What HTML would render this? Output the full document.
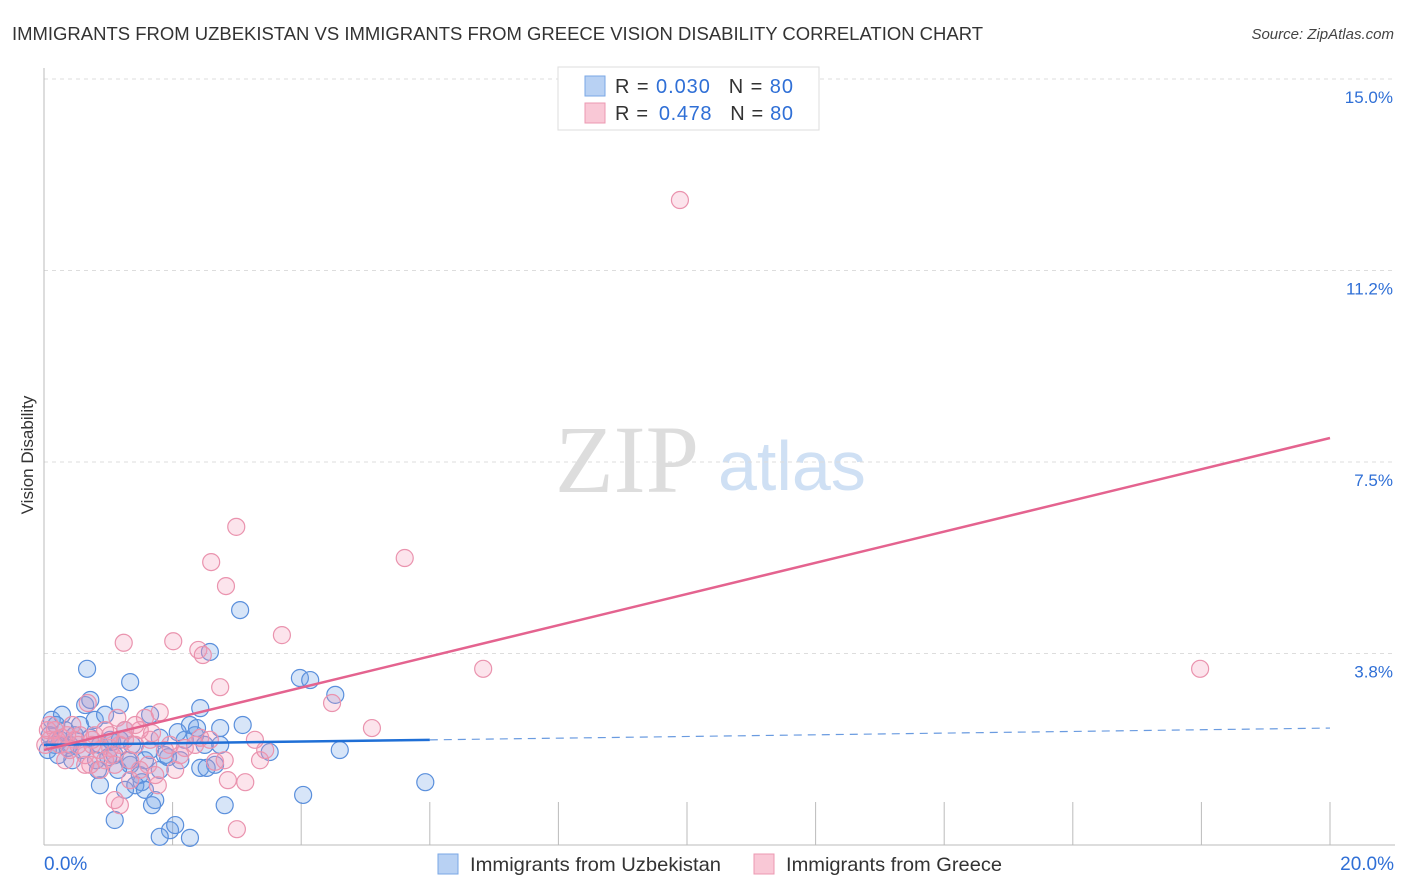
<!DOCTYPE html>
<html><head><meta charset="utf-8"><style>
body{margin:0;background:#fff;font-family:"Liberation Sans",sans-serif}
#c{position:absolute;left:0;top:0}
</style></head><body>
<svg id="c" width="1406" height="892">
<text x="12" y="40" font-size="18" fill="#333" textLength="971" lengthAdjust="spacingAndGlyphs">IMMIGRANTS FROM UZBEKISTAN VS IMMIGRANTS FROM GREECE VISION DISABILITY CORRELATION CHART</text>
<text x="1394" y="39" font-size="15" fill="#444" font-style="italic" text-anchor="end">Source: ZipAtlas.com</text>
<text transform="translate(33,455) rotate(-90)" font-size="17" fill="#333" text-anchor="middle">Vision Disability</text>
<text x="555" y="492" font-size="96" fill="#ddd" font-family="Liberation Serif,serif">ZIP</text>
<text x="718" y="490" font-size="70" fill="#cfe0f4">atlas</text>
<g id="grid"></g><g id="pts"></g><g id="trend"></g>
<g>
<rect x="558" y="67" width="261" height="63" fill="#fff" stroke="#ddd"/>
<rect x="585" y="76" width="20" height="20" fill="#b8d1f3" stroke="#7aa7e6"/>
<rect x="585" y="103" width="20" height="20" fill="#f9c8d6" stroke="#ec98b2"/>
<text x="615" y="93" font-size="20" fill="#333" textLength="178" lengthAdjust="spacing">R = <tspan fill="#2f6fd6">0.030</tspan><tspan dx="18">N = </tspan><tspan fill="#2f6fd6">80</tspan></text>
<text x="615" y="120" font-size="20" fill="#333" textLength="178" lengthAdjust="spacing">R = <tspan dx="4" fill="#2f6fd6">0.478</tspan><tspan dx="18">N = </tspan><tspan fill="#2f6fd6">80</tspan></text>
</g>
<g>
<rect x="438" y="854" width="20" height="20" fill="#b8d1f3" stroke="#7aa7e6"/>
<text x="470" y="871" font-size="19.5" fill="#333" textLength="251" lengthAdjust="spacingAndGlyphs">Immigrants from Uzbekistan</text>
<rect x="754" y="854" width="20" height="20" fill="#f9c8d6" stroke="#ec98b2"/>
<text x="786" y="871" font-size="19.5" fill="#333" textLength="216" lengthAdjust="spacingAndGlyphs">Immigrants from Greece</text>
</g>
</svg>
<script>
const yTicks=[3.75,7.5,11.25,15];
const yTickLabels=["3.8%","7.5%","11.2%","15.0%"];
const xTicks=[0,2,4,6,8,10,12,14,16,18,20];
const blueX=[0.12,0.09,0.17,0.06,0.25,0.33,0.40,0.48,0.56,0.64,0.72,0.79,0.87,0.95,1.03,1.10,1.18,1.26,1.34,0.67,1.34,0.87,1.10,1.26,1.49,1.57,1.65,1.73,1.80,1.88,1.96,1.80,2.04,2.19,2.27,2.35,2.43,2.50,2.58,2.66,2.74,2.81,3.05,3.09,3.51,3.98,4.14,4.53,4.60,4.03,5.93,1.80,2.43,2.12,1.68,1.52,1.42,0.72,0.44,0.28,0.22,1.00,1.15,0.84,1.31,1.65,2.27,1.93,2.08,1.06,0.59,0.37,0.19,0.81,1.37,1.57,2.38,2.53,2.74,1.18];
const blueY=[2.45,2.15,1.96,1.86,2.06,2.25,1.96,2.15,2.35,2.74,2.10,2.45,1.96,2.55,2.06,1.76,2.74,2.25,3.19,3.45,1.57,1.17,0.49,1.08,1.37,1.66,2.55,0.88,2.10,1.76,0.29,0.16,0.39,2.06,2.35,2.15,2.68,1.96,3.78,1.57,1.96,0.78,4.60,2.35,1.82,3.27,3.23,2.94,1.86,0.98,1.23,1.47,1.51,1.66,0.78,1.23,1.17,2.84,1.66,2.55,1.76,1.72,1.47,1.47,1.66,1.86,0.14,1.72,2.21,2.02,1.86,1.90,2.35,1.66,1.96,1.08,2.29,1.51,2.29,2.06];
const pinkX=[9.89,2.99,5.61,2.60,2.83,1.24,2.01,2.40,2.47,3.70,2.74,6.83,17.98,4.48,5.10,0.68,1.14,1.57,1.80,1.65,1.88,2.19,2.66,2.86,3.13,3.00,1.18,1.77,2.35,3.36,3.44,0.17,0.25,0.33,0.48,0.64,0.79,0.95,1.03,1.10,1.26,1.34,1.49,1.42,0.09,0.40,0.56,0.87,0.72,0.87,0.28,0.44,0.53,0.75,1.18,1.62,1.73,1.96,2.04,2.12,2.43,1.49,1.34,2.58,2.81,1.10,0.75,0.64,0.95,0.02,0.06,0.09,0.20,0.36,1.03,1.26,1.42,1.68,1.06,3.28];
const pinkY=[12.63,6.23,5.62,5.54,5.07,3.96,3.99,3.82,3.72,4.11,3.09,3.45,3.45,2.78,2.29,2.78,2.49,2.49,2.60,2.06,1.86,1.90,1.63,1.27,1.23,0.31,0.78,1.17,1.96,1.66,1.86,2.25,1.96,1.66,2.06,1.76,2.15,2.25,1.90,1.57,2.06,1.66,2.25,1.96,2.06,1.86,2.15,1.47,1.57,1.86,2.10,2.35,1.96,1.96,1.96,1.57,1.37,1.96,1.47,1.76,2.10,1.47,1.27,2.06,1.66,0.88,2.06,1.57,1.66,1.96,2.25,2.35,2.06,2.15,2.15,2.25,2.35,2.19,1.76,2.06];
const blueTrend=[1.96,2.29];
const blueSolidEnd=6.0;
const pinkTrend=[1.86,7.97];
const NS="http://www.w3.org/2000/svg";
const X=v=>44+v/20*1286, Y=v=>845-v/15*766;
function mk(tag,attrs,parent){const e=document.createElementNS(NS,tag);for(const k in attrs)e.setAttribute(k,attrs[k]);parent.appendChild(e);return e;}
const grid=document.getElementById('grid');
yTicks.forEach((t,i)=>{
 const l=mk('line',{x1:44,x2:1395,y1:Y(t),y2:Y(t),stroke:'#ddd','stroke-dasharray':'4,4'},grid);
 
 
 const tx=mk('text',{x:1393,y:Y(t)+24,'font-size':17,fill:'#2f6fd6','text-anchor':'end'},grid);
 tx.textContent=yTickLabels[i];
 
 
});
const ax=mk('line',{x1:44,x2:44,y1:68,y2:845,stroke:'#bbb'},grid);


const bx=mk('line',{x1:44,x2:1395,y1:845,y2:845,stroke:'#bbb'},grid);


xTicks.forEach(t=>{
 const l=mk('line',{x1:X(t),x2:X(t),y1:802,y2:845,stroke:'#bbb'},grid);
 
 
});
const xl0=mk('text',{x:44,y:870,'font-size':19,fill:'#2f6fd6'},grid);xl0.textContent='0.0%';


const xl1=mk('text',{x:1394,y:870,'font-size':19,fill:'#2f6fd6','text-anchor':'end'},grid);xl1.textContent='20.0%';


const pts=document.getElementById('pts');
blueX.forEach((x,i)=>{
 const c=mk('circle',{cx:X(x),cy:Y(blueY[i]),r:8.5,fill:'rgba(110,160,230,0.28)',stroke:'#5a8fdc','stroke-width':1.2},pts);
 
 
});
pinkX.forEach((x,i)=>{
 const c=mk('circle',{cx:X(x),cy:Y(pinkY[i]),r:8.5,fill:'rgba(242,150,180,0.26)',stroke:'#ea93ae','stroke-width':1.2},pts);
 
 
});
const tr=document.getElementById('trend');
const bAt=x=>blueTrend[0]+(blueTrend[1]-blueTrend[0])*x/20;
const t1=mk('line',{x1:X(0),y1:Y(blueTrend[0]),x2:X(blueSolidEnd),y2:Y(bAt(blueSolidEnd)),stroke:'#1f6fd6','stroke-width':2.5},tr);


const t2=mk('line',{x1:X(blueSolidEnd),y1:Y(bAt(blueSolidEnd)),x2:X(20),y2:Y(blueTrend[1]),stroke:'#6a9be0','stroke-width':1.2,'stroke-dasharray':'8,6'},tr);


const t3=mk('line',{x1:X(0),y1:Y(pinkTrend[0]),x2:X(20),y2:Y(pinkTrend[1]),stroke:'#e4638f','stroke-width':2.5},tr);


</script>
</body></html>
